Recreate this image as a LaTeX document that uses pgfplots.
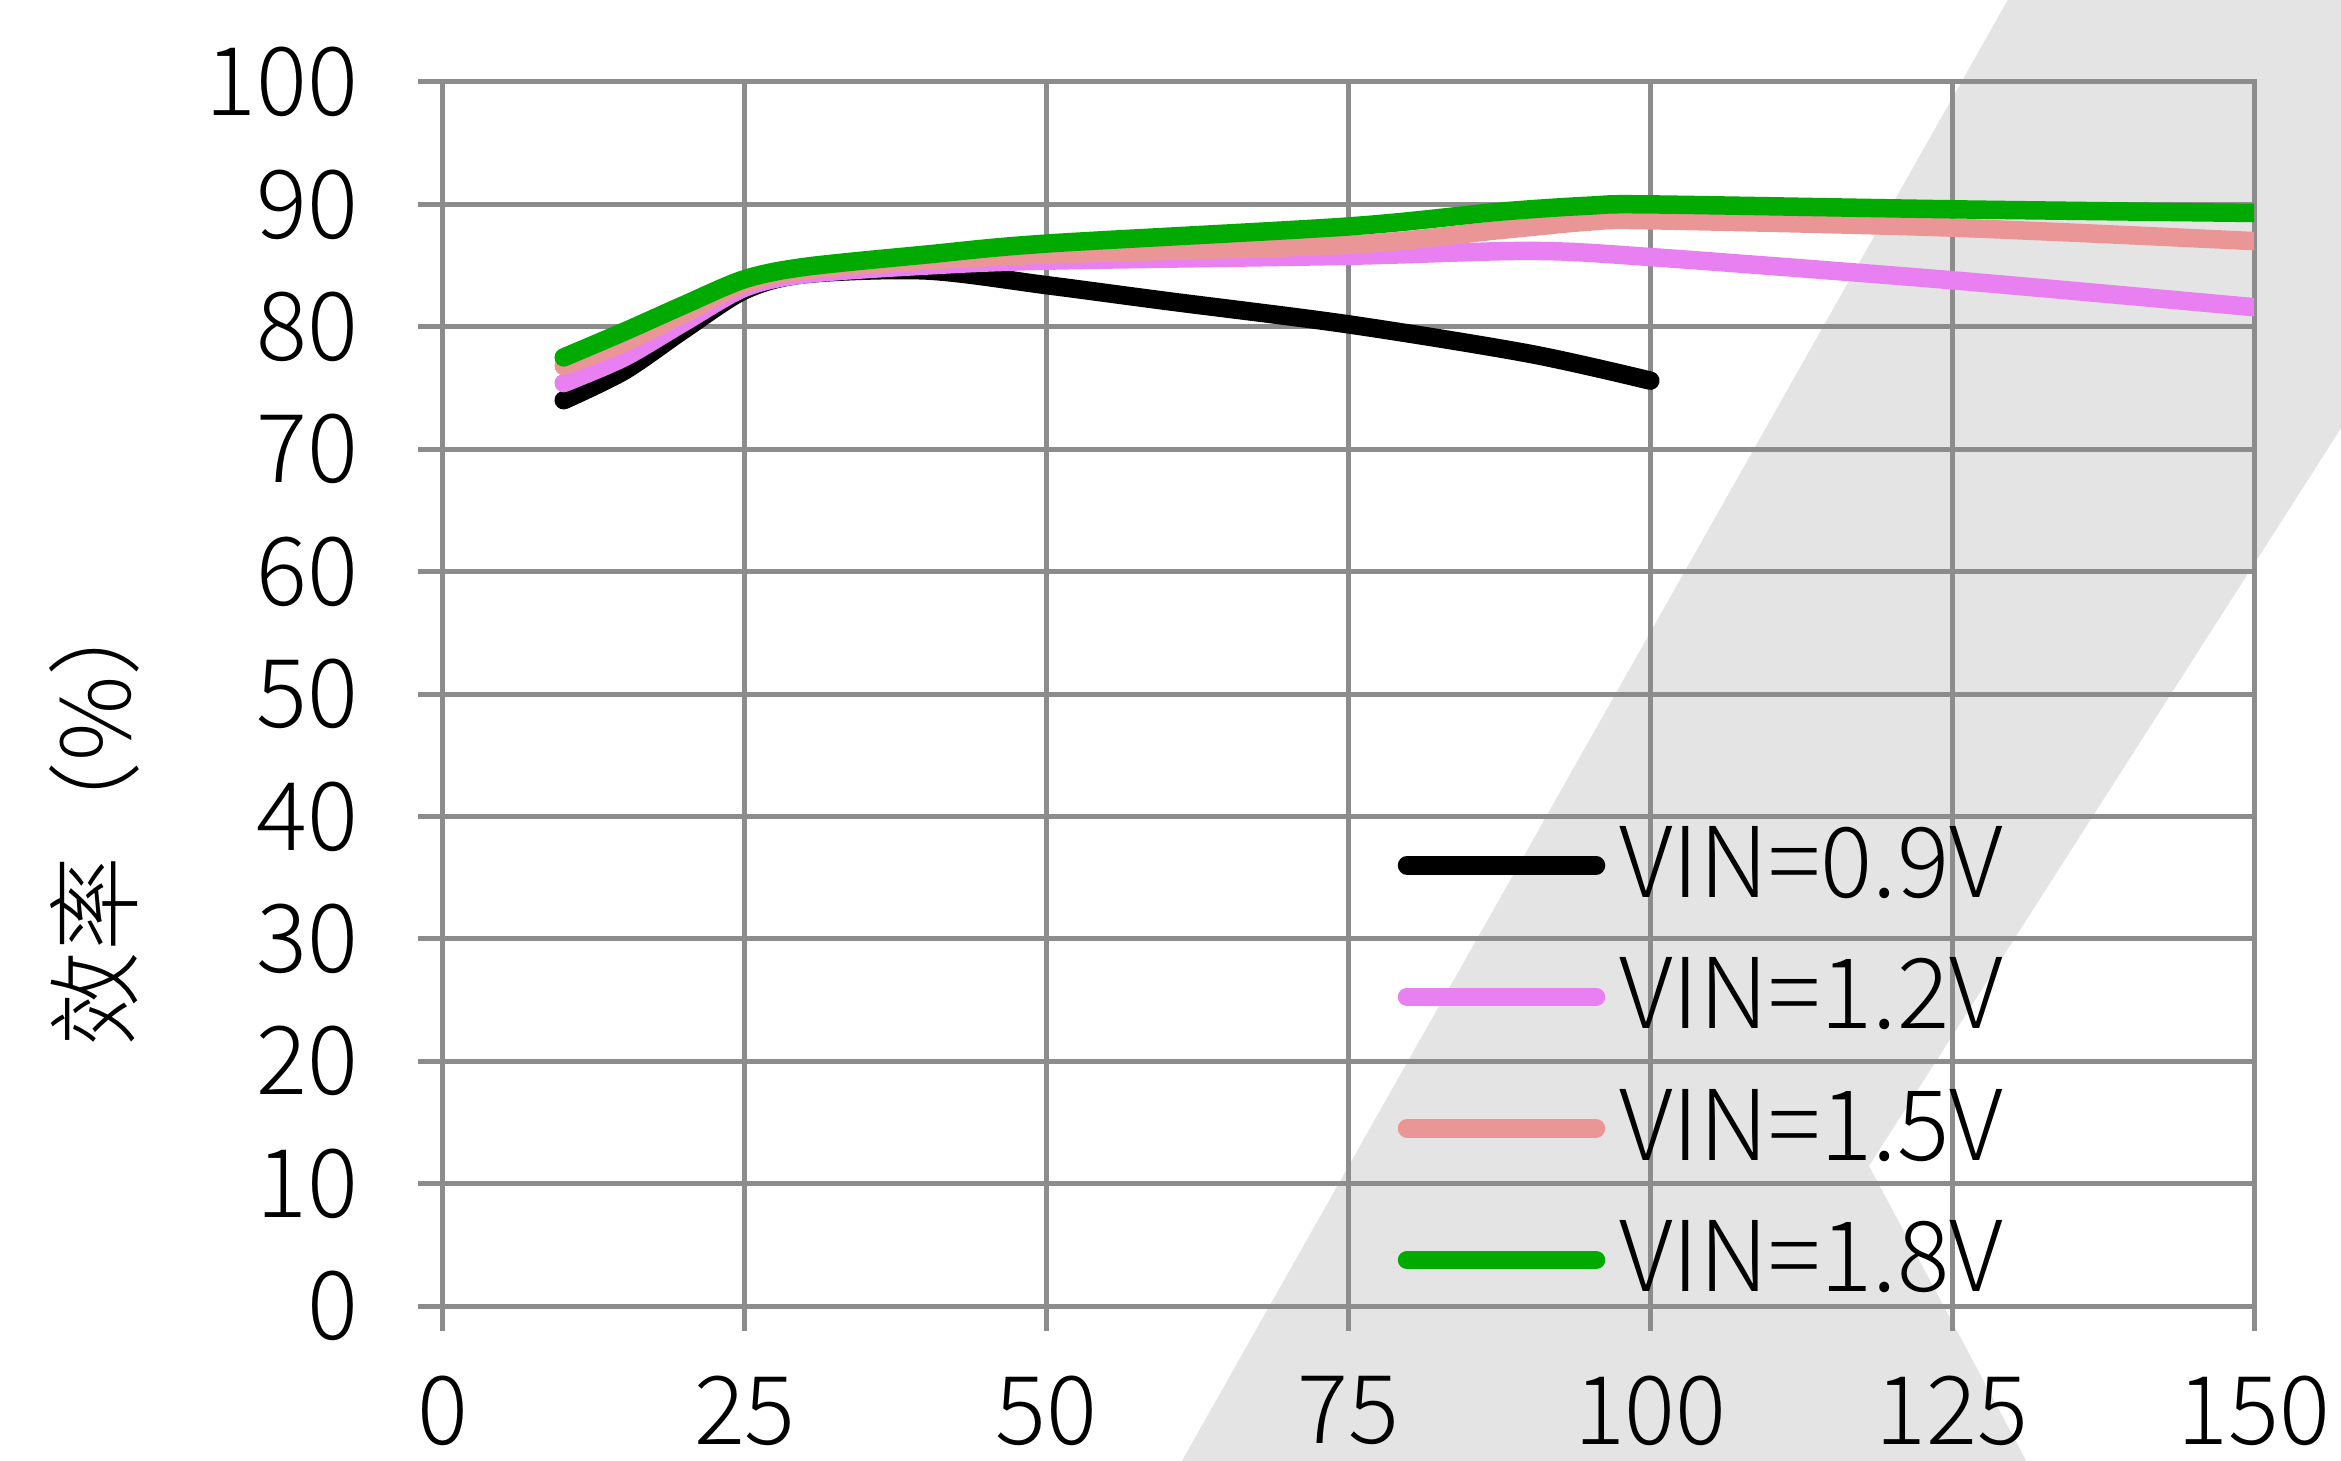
\documentclass[border=0pt]{standalone}
\usepackage{fontspec}
\setmainfont{Noto Sans CJK SC Light}
\usepackage{pgfplots}
\pgfplotsset{compat=1.18}
\definecolor{gridgray}{RGB}{140,140,140}
\definecolor{bandgray}{RGB}{228,228,228}
\definecolor{cviolet}{RGB}{232,128,242}
\definecolor{csalmon}{RGB}{235,150,150}
\definecolor{cgreen}{RGB}{0,170,0}
\begin{document}
\begin{tikzpicture}
\useasboundingbox (-88.6pt,-30.8pt) rectangle (379.6pt,261.2pt);
\begin{scope}
\clip (-88.6pt,-30.8pt) rectangle (379.6pt,261.2pt);
\fill[bandgray] (313.4pt,262pt) -- (385pt,262pt) -- (385pt,184pt) -- (285.2pt,28pt) -- (317.2pt,-32pt) -- (147.2pt,-32pt) -- cycle;
\end{scope}
\begin{axis}[
  at={(0pt,0pt)}, anchor=south west,
  width=362.2pt, height=244.8pt, scale only axis,
  xmin=0, xmax=150, ymin=0, ymax=100,
  xtick={0,25,50,75,100,125,150},
  ytick={0,10,20,30,40,50,60,70,80,90,100},
  tick pos=left,
  grid=major,
  grid style={color=gridgray, line width=1pt},
  axis line style={color=gridgray, line width=1pt},
  tick style={color=gridgray, line width=1pt},
  tick align=outside, major tick length=5pt,
  /pgf/number format/assume math mode=true,
  ticklabel style={font=\fontsize{19}{19}\selectfont, text=black},
  yticklabel style={inner sep=0pt, xshift=-11.8pt},
  xticklabel style={inner sep=0pt, yshift=-8.8pt},
  ylabel={效率（\%）},
  ylabel style={font=\fontsize{19}{19}\selectfont, at={(axis description cs:-0.1927,0.402)}, anchor=center},
  legend style={at={(axis cs:79,39.3)}, anchor=north west, draw=none, fill=none,
    font=\fontsize{19.5}{19.5}\selectfont, inner sep=0pt, row sep=10.6pt,
    nodes={inner sep=0pt}},
  legend cell align=left,
  /tikz/every odd column/.append style={column sep=2.8pt},
  legend image code/.code={\draw[#1, line cap=round] (1.7pt,0pt) -- (39.5pt,0pt);},
  every axis plot/.append style={line width=3.7pt, line join=round, line cap=round, smooth, tension=0.5},
]
\addplot[black] coordinates {(10,74.0)(15,76.4)(20,79.8)(25,83.0)(30,84.3)(40,84.6)(50,83.4)(60,82.1)(75,80.2)(90,77.8)(100,75.6)};
\addlegendentry{VIN=0.9V}
\addplot[cviolet] coordinates {(10,75.4)(15,77.5)(20,80.4)(25,83.2)(30,84.3)(40,85.0)(50,85.4)(75,85.8)(90,86.2)(100,85.7)(125,83.8)(150,81.6)};
\addlegendentry{VIN=1.2V}
\addplot[csalmon] coordinates {(10,76.8)(15,78.7)(20,81.1)(25,83.5)(30,84.6)(40,85.4)(50,85.9)(75,86.7)(87.5,87.9)(95,88.6)(100,88.7)(125,88.1)(150,87.0)};
\addlegendentry{VIN=1.5V}
\addplot[cgreen] coordinates {(10,77.5)(15,79.6)(20,81.8)(25,83.9)(30,84.9)(40,85.9)(50,86.8)(75,88.2)(87.5,89.4)(95,89.9)(100,90.0)(125,89.6)(150,89.3)};
\addlegendentry{VIN=1.8V}
\end{axis}
\end{tikzpicture}
\end{document}
